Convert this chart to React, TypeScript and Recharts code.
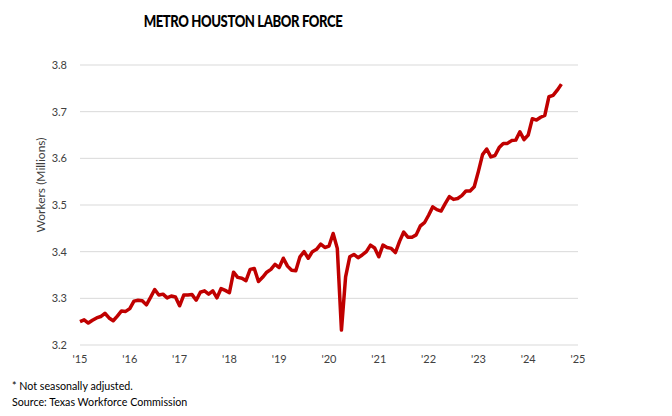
import React from "react";
import {
  LineChart,
  Line,
  XAxis,
  YAxis,
  CartesianGrid,
} from "recharts";

// monthly labor force, millions (Jan..Dec)
const labor2015 = [3.250, 3.254, 3.247, 3.253, 3.258, 3.261, 3.268, 3.258, 3.252, 3.262, 3.273, 3.272];
const labor2016 = [3.278, 3.294, 3.296, 3.295, 3.286, 3.302, 3.319, 3.307, 3.309, 3.301, 3.305, 3.303];
const labor2017 = [3.284, 3.307, 3.307, 3.308, 3.296, 3.313, 3.316, 3.309, 3.316, 3.301, 3.321, 3.317];
const labor2018 = [3.312, 3.356, 3.345, 3.343, 3.338, 3.362, 3.364, 3.336, 3.345, 3.356, 3.362, 3.373];
const labor2019 = [3.366, 3.386, 3.369, 3.360, 3.359, 3.389, 3.400, 3.386, 3.400, 3.405, 3.416, 3.409];
const labor2020 = [3.412, 3.439, 3.407, 3.232, 3.346, 3.389, 3.394, 3.387, 3.393, 3.400, 3.414, 3.408];
const labor2021 = [3.389, 3.414, 3.409, 3.407, 3.398, 3.422, 3.442, 3.431, 3.431, 3.436, 3.455, 3.462];
const labor2022 = [3.478, 3.496, 3.490, 3.487, 3.503, 3.518, 3.512, 3.514, 3.520, 3.530, 3.530, 3.539];
const labor2023 = [3.572, 3.608, 3.620, 3.603, 3.606, 3.623, 3.632, 3.632, 3.638, 3.639, 3.657, 3.640];
const labor2024 = [3.650, 3.685, 3.682, 3.688, 3.692, 3.732, 3.735, 3.746, 3.759];

const yearLabels = ["'15", "'16", "'17", "'18", "'19", "'20", "'21", "'22", "'23", "'24", "'25"];
const yTicks = [3.2, 3.3, 3.4, 3.5, 3.6, 3.7, 3.8];

const allValues = [
  ...labor2015, ...labor2016, ...labor2017, ...labor2018, ...labor2019,
  ...labor2020, ...labor2021, ...labor2022, ...labor2023, ...labor2024,
];
const data = allValues.map((v, i) => ({ month: i, workers: v }));
const xTicks = yearLabels.map((_, i) => i * 12);

const font = "Lato, 'Open Sans', sans-serif";

const App = () => {
  return (
    <div
      style={{
        position: "absolute",
        left: 0,
        top: 0,
        width: 672,
        height: 416,
        background: "#fff",
        fontFamily: font,
      }}
    >
      <div
        style={{
          position: "absolute",
          left: 243,
          top: 11,
          transform: "translateX(-50%) scaleX(0.82)",
          whiteSpace: "nowrap",
          fontWeight: 900,
          fontSize: 16,
          color: "#000",
          letterSpacing: -0.5,
        }}
      >
        METRO HOUSTON LABOR FORCE
      </div>
      <div
        style={{
          position: "absolute",
          left: 40,
          top: 185,
          transform: "translate(-50%, -50%) rotate(-90deg)",
          whiteSpace: "nowrap",
          fontSize: 12,
          color: "#404040",
        }}
      >
        Workers (Millions)
      </div>
      <LineChart
        width={672}
        height={416}
        data={data}
        margin={{ top: 65, right: 94, left: 50, bottom: 51 }}
      >
        <CartesianGrid vertical={false} stroke="#d9d9d9" />
        <XAxis
          dataKey="month"
          type="number"
          domain={[0, 120]}
          ticks={xTicks}
          tickFormatter={(v: number) => yearLabels[v / 12]}
          height={20}
          axisLine={false}
          tickLine={false}
          tickSize={0}
          tickMargin={10}
          tick={{ fontSize: 11, fill: "#404040", fontFamily: font }}
        />
        <YAxis
          type="number"
          domain={[3.2, 3.8]}
          ticks={yTicks}
          tickFormatter={(v: number) => v.toFixed(1)}
          width={30}
          axisLine={false}
          tickLine={false}
          tickSize={0}
          tickMargin={13}
          tick={{ fontSize: 11, fill: "#404040", fontFamily: font }}
        />
        <Line
          type="linear"
          dataKey="workers"
          stroke="#c00000"
          strokeWidth={3.5}
          strokeLinejoin="round"
          dot={false}
          isAnimationActive={false}
        />
      </LineChart>
      <div
        style={{
          position: "absolute",
          left: 12,
          top: 378,
          fontSize: 10.7,
          color: "#000",
          lineHeight: "16px",
        }}
      >
        <div>* Not seasonally adjusted.</div>
        <div>Source: Texas Workforce Commission</div>
      </div>
    </div>
  );
};

export default App;
